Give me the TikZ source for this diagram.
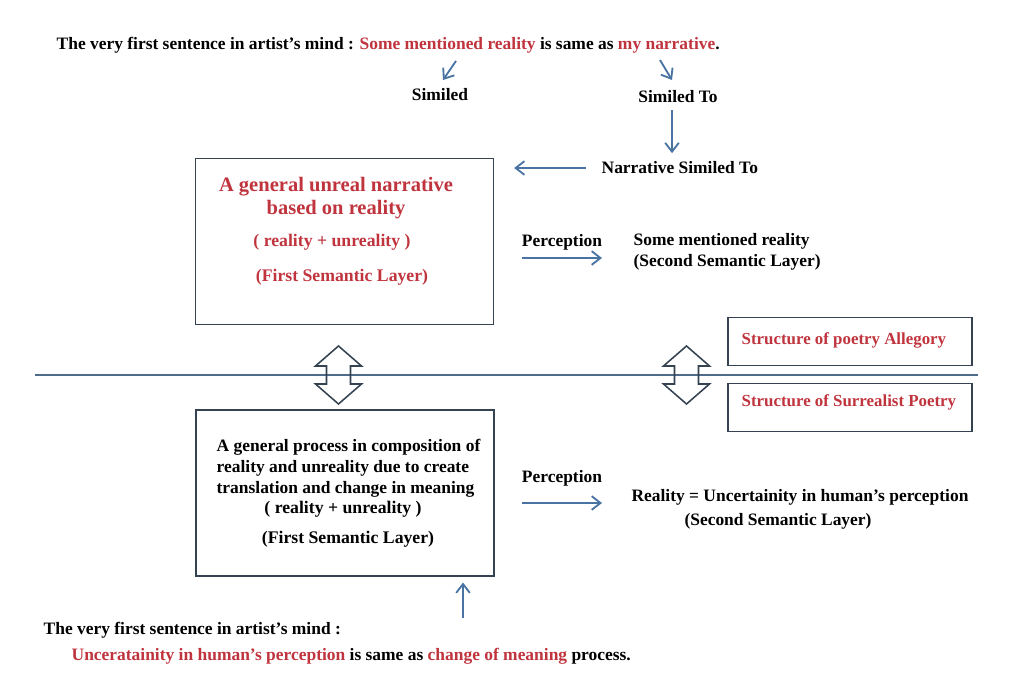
\documentclass[tikz,border=0pt]{standalone}
\usepackage{fontspec}
\setmainfont{Liberation Serif}
\usetikzlibrary{positioning, arrows.meta, calc}
\usepackage{xcolor}

\definecolor{redtxt}{RGB}{192,52,62}
\definecolor{arrblue}{RGB}{72,115,162}
\definecolor{boxline}{RGB}{52,66,82}
\definecolor{lineblue}{RGB}{78,108,138}

% open double arrow: x, top y, bottom y (pixel units)
\newcommand{\dblarrow}[3]{%
  \draw[hollow] (#1,#2) -- (#1+23,#2+20) -- (#1+12,#2+20) -- (#1+12,#3-20)
    -- (#1+23,#3-20) -- (#1,#3) -- (#1-23,#3-20) -- (#1-12,#3-20)
    -- (#1-12,#2+20) -- (#1-23,#2+20) -- cycle;}

\begin{document}
\begin{tikzpicture}[x=0.025cm, y=-0.025cm,
  txt/.style={font=\bfseries\fontsize{12.4}{15}\selectfont, inner sep=1pt, text=black},
  bigtxt/.style={font=\bfseries\fontsize{14.6}{16.5}\selectfont, text=redtxt, align=center, inner sep=1pt},
  smalltxt/.style={font=\bfseries\fontsize{12.6}{14}\selectfont, inner sep=1pt},
  bigbox/.style={draw=boxline, line width=1.3pt, minimum width=7.45cm, minimum height=4.15cm},
  sbox/.style={draw=boxline, line width=1.3pt, minimum width=6.1cm, minimum height=1.2cm},
  stxt/.style={font=\bfseries\fontsize{12}{13}\selectfont, text=redtxt, inner sep=1pt, anchor=west},
  arr/.style={-{Straight Barb[length=2.2mm, width=3.4mm]}, arrblue, line width=1.3pt},
  hollow/.style={draw=boxline, line width=1.1pt, line join=miter}]
\useasboundingbox (0,0) rectangle (1015,695);

% top sentence
\node[txt, anchor=west] (top) at (55,45)
  {The very first sentence in artist's mind : \textcolor{redtxt}{Some mentioned reality} is same as \textcolor{redtxt}{my narrative}.};
\node[txt] (similed) at (440,95) {Similed};
\node[txt] (simto) at (678,97) {Similed To};
\node[txt, anchor=west] (nst) at (600,168) {Narrative Similed To};
\coordinate (s1) at (456,61);
\coordinate (s2) at (660,60);
\draw[arr] (s1) -- (443,80);
\draw[arr] (s2) -- (672,80);
\draw[arr, shorten <=4pt, shorten >=5pt] (simto.south -| 672,0) -- (nst.north -| 672,0);

% upper box
\node[bigbox] (box1) at (344.5,241.5) {};
\node[bigtxt] (t1) at (336,198) {A general unreal narrative\\based on reality};
\node[smalltxt, text=redtxt] (t2) at (332,242) {( reality + unreality )};
\node[smalltxt, text=redtxt] (t3) at (342,277) {(First Semantic Layer)};
\draw[arr, shorten <=10pt, shorten >=14pt] (nst.west) -- (nst.west -| box1.east);

\coordinate (p1a) at (522,258);
\coordinate (p1b) at (602,258);
\draw[arr] (p1a) -- node[txt, above=4pt] (perc1) {Perception} (p1b);
\node[txt, anchor=west, align=left] (smr) at (632,252)
  {Some mentioned reality\\(Second Semantic Layer)};

% separator and structure labels
\coordinate (hl) at (35,375);
\coordinate (hr) at (978,375);
\draw[lineblue, line width=1.6pt] (hl) -- (hr);
\dblarrow{338.5}{346}{404}
\dblarrow{686.5}{346}{404}
\node[sbox] (allegory) at (850,341.5) {};
\node[stxt] (allegtxt) at (740,340) {Structure of poetry Allegory};
\node[sbox] (surreal) at (850,407.5) {};
\node[stxt] (surrtxt) at (740,402) {Structure of Surrealist Poetry};

% lower box
\node[bigbox] (box2) at (345,493) {};
\node[txt, anchor=west, align=left] (t4) at (215,468)
  {A general process in composition of\\reality and unreality due to create\\translation and change in meaning};
\node[smalltxt] (t5) at (343,509) {( reality + unreality )};
\node[smalltxt] (t6) at (348,539) {(First Semantic Layer)};

\coordinate (p2a) at (522,503);
\coordinate (p2b) at (602,503);
\draw[arr] (p2a) -- node[txt, above=10pt] (perc2) {Perception} (p2b);
\node[txt] (real1) at (800,497) {Reality = Uncertainity in human's perception};
\node[txt] (real2) at (778,521) {(Second Semantic Layer)};

% bottom sentence
\coordinate (up0) at (463,618);
\draw[arr, shorten >=4pt] (up0) -- (up0 |- box2.south);
\node[txt, anchor=west] (bot1) at (42,630) {The very first sentence in artist's mind :};
\node[txt, anchor=west] (bot2) at (70,656)
  {\textcolor{redtxt}{Unceratainity in human's perception} is same as \textcolor{redtxt}{change of meaning} process.};
\end{tikzpicture}
\end{document}
